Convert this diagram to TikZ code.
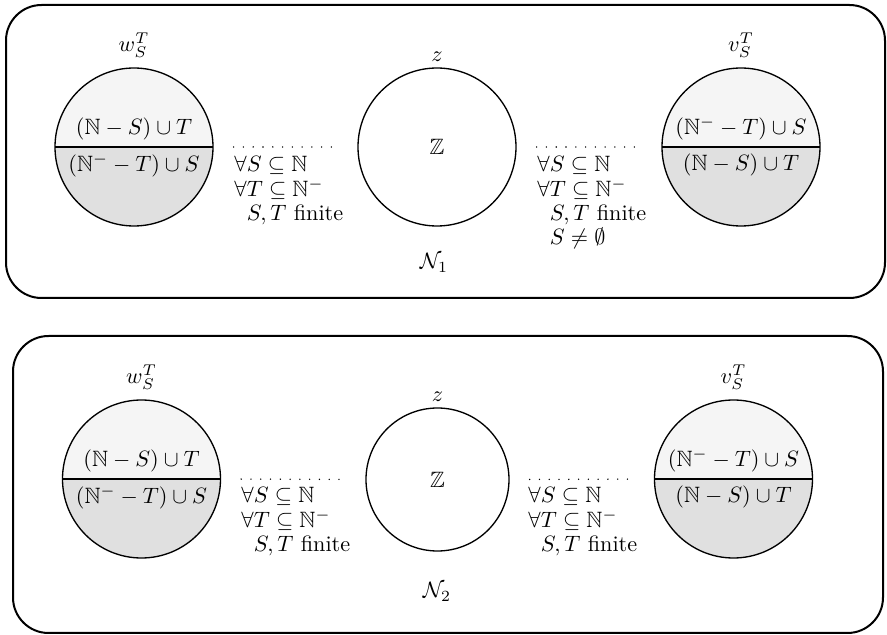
\documentclass[tikz,border=0pt]{standalone}
\usepackage{amsmath,amssymb}
\begin{document}
\begin{tikzpicture}[x=0.45pt,y=-0.45pt,
  frame/.style={draw, line width=0.9pt, rounded corners=16pt},
  set/.style={circle, draw, line width=0.6pt, minimum size=71.1pt, inner sep=0pt},
  split/.style={set, path picture={
     \fill[black!4] (path picture bounding box.north west) rectangle (path picture bounding box.east);
     \fill[black!12] (path picture bounding box.west) rectangle (path picture bounding box.south east);
     \draw[line width=0.6pt] (path picture bounding box.west) -- (path picture bounding box.east);}},
  dotline/.style={line width=0.7pt, line cap=round, dash pattern=on 0pt off 4.4pt, shorten <=9pt, shorten >=8pt},
  cond/.style={align=left, inner sep=0pt, anchor=north west, font=\fontsize{10}{10.9}\selectfont},
  half/.style={inner sep=3pt},
  zlabel/.style={label={[label distance=-1pt]above:$z$}},
]
\useasboundingbox (0,0) rectangle (887,635);

% ---------- network N_1 ----------
\draw[frame] (6,5) rectangle (885,298);

\node[split, label={[label distance=1pt]above:$w_S^T$}] (w1) at (134,147) {};
\node[half, above] (w1up) at (w1.center) {$(\mathbb{N}-S)\cup T$};
\node[half, below] (w1dn) at (w1.center) {$(\mathbb{N}^- -T)\cup S$};

\node[set, zlabel] (z1) at (437,147) {$\mathbb{Z}$};

\node[split, label={[label distance=1pt]above:$v_S^T$}] (v1) at (741,147) {};
\node[half, above] (v1up) at (v1.center) {$(\mathbb{N}^- -T)\cup S$};
\node[half, below] (v1dn) at (v1.center) {$(\mathbb{N}-S)\cup T$};

\draw[dotline] (w1.east) -- (z1.west);
\draw[dotline] (z1.east) -- (v1.west);

\node[cond] (c1l) at (234,156) {$\forall S\subseteq\mathbb{N}$\\$\forall T\subseteq\mathbb{N}^-$\\$\phantom{\forall}S,T$ finite};
\node[cond] (c1r) at (537,156) {$\forall S\subseteq\mathbb{N}$\\$\forall T\subseteq\mathbb{N}^-$\\$\phantom{\forall}S,T$ finite\\$\phantom{\forall}S\neq\emptyset$};

\node (n1) at (434,263) {$\mathcal{N}_1$};

% ---------- network N_2 ----------
\draw[frame] (13,336) rectangle (883,633);

\node[split, label={[label distance=1pt]above:$w_S^T$}] (w2) at (141.5,479) {};
\node[half, above] (w2up) at (w2.center) {$(\mathbb{N}-S)\cup T$};
\node[half, below] (w2dn) at (w2.center) {$(\mathbb{N}^- -T)\cup S$};

\node[set, minimum size=64.35pt, zlabel] (z2) at (437.5,479.5) {$\mathbb{Z}$};

\node[split, label={[label distance=1pt]above:$v_S^T$}] (v2) at (733.5,479) {};
\node[half, above] (v2up) at (v2.center) {$(\mathbb{N}^- -T)\cup S$};
\node[half, below] (v2dn) at (v2.center) {$(\mathbb{N}-S)\cup T$};

\draw[dotline] (w2.east) -- (z2.west);
\draw[dotline] (z2.east) -- (v2.west);

\node[cond] (c2l) at (241,487) {$\forall S\subseteq\mathbb{N}$\\$\forall T\subseteq\mathbb{N}^-$\\$\phantom{\forall}S,T$ finite};
\node[cond] (c2r) at (528,487) {$\forall S\subseteq\mathbb{N}$\\$\forall T\subseteq\mathbb{N}^-$\\$\phantom{\forall}S,T$ finite};

\node (n2) at (437,592) {$\mathcal{N}_2$};
\end{tikzpicture}
\end{document}
